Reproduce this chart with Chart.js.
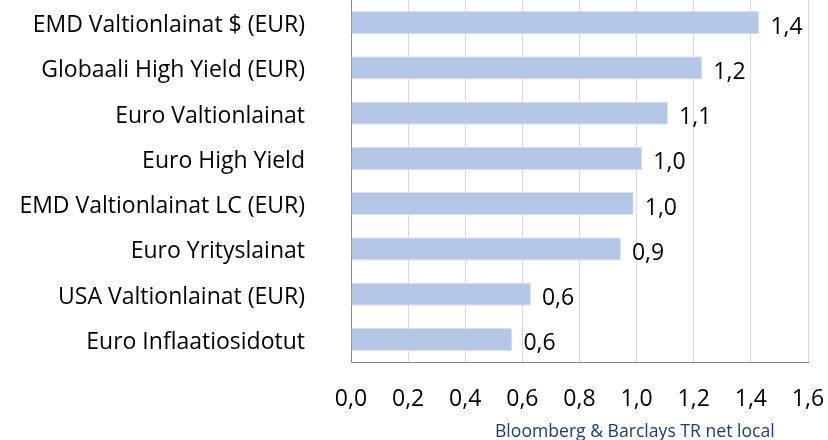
<!DOCTYPE html>
<html>
<head>
<meta charset="utf-8">
<script src="https://cdn.jsdelivr.net/npm/chart.js@4/dist/chart.umd.min.js"></script>
<style>
  html, body { margin: 0; padding: 0; background: #fff; }
  #wrap { position: relative; width: 828px; height: 440px; }
  #source { position: absolute; left: 495px; top: 419px; font-family: "Open Sans", sans-serif; font-size: 17.6px; color: #1f3d6b; white-space: nowrap; line-height: 22px; }
</style>
</head>
<body>
<div id="wrap">
  <canvas id="c" width="828" height="440"></canvas>
  <div id="source">Bloomberg &amp; Barclays TR net local</div>
</div>
<script>
const categories = [
  "EMD Valtionlainat $ (EUR)",
  "Globaali High Yield (EUR)",
  "Euro Valtionlainat",
  "Euro High Yield",
  "EMD Valtionlainat LC (EUR)",
  "Euro Yrityslainat",
  "USA Valtionlainat (EUR)",
  "Euro Inflaatiosidotut"
];
const values = [1.43, 1.23, 1.11, 1.02, 0.99, 0.945, 0.63, 0.565];
const xTicks = [0, 0.2, 0.4, 0.6, 0.8, 1.0, 1.2, 1.4, 1.6];

const FONT = "Open Sans";
const fmt = v => v.toFixed(1).replace('.', ',');

const labelPlugin = {
  id: 'barLabels',
  afterDatasetsDraw(chart) {
    const ctx = chart.ctx;
    const meta = chart.getDatasetMeta(0);
    ctx.save();
    ctx.font = `23px "${FONT}"`;
    ctx.fillStyle = '#000';
    ctx.textAlign = 'left';
    ctx.textBaseline = 'alphabetic';
    meta.data.forEach((bar, i) => {
      ctx.fillText(fmt(values[i]), bar.x + 11, bar.y + 11);
    });
    ctx.restore();
  }
};

new Chart(document.getElementById('c'), {
  type: 'bar',
  data: {
    labels: categories,
    datasets: [{
      data: values,
      backgroundColor: '#b4c7e7',
      borderColor: '#dae3f3',
      borderWidth: 1,
      categoryPercentage: 1,
      barPercentage: 0.51
    }]
  },
  options: {
    indexAxis: 'y',
    responsive: false,
    animation: false,
    layout: { padding: { top: 0, right: 20, left: 0, bottom: 0 } },
    plugins: { legend: { display: false }, tooltip: { enabled: false } },
    scales: {
      x: {
        min: 0, max: 1.6,
        afterBuildTicks: s => { s.ticks = xTicks.map(v => ({ value: v })); },
        afterFit: s => { s.height = 78; s.paddingLeft = 0; s.paddingRight = 0; },
        ticks: {
          font: { family: FONT, size: 23 },
          color: '#000',
          padding: 24,
          callback: v => fmt(v)
        },
        grid: { color: '#d9d9d9', lineWidth: 1, drawTicks: false },
        border: { display: true, color: '#898989', width: 1 }
      },
      y: {
        afterFit: s => { s.width = 351; s.paddingTop = 0; s.paddingBottom = 0; },
        ticks: {
          font: { family: FONT, size: 23 },
          color: '#000',
          padding: 46,
          labelOffset: 3
        },
        grid: { display: false, drawTicks: false },
        border: { display: true, color: '#898989', width: 1 }
      }
    }
  },
  plugins: [labelPlugin]
});
</script>
</body>
</html>
